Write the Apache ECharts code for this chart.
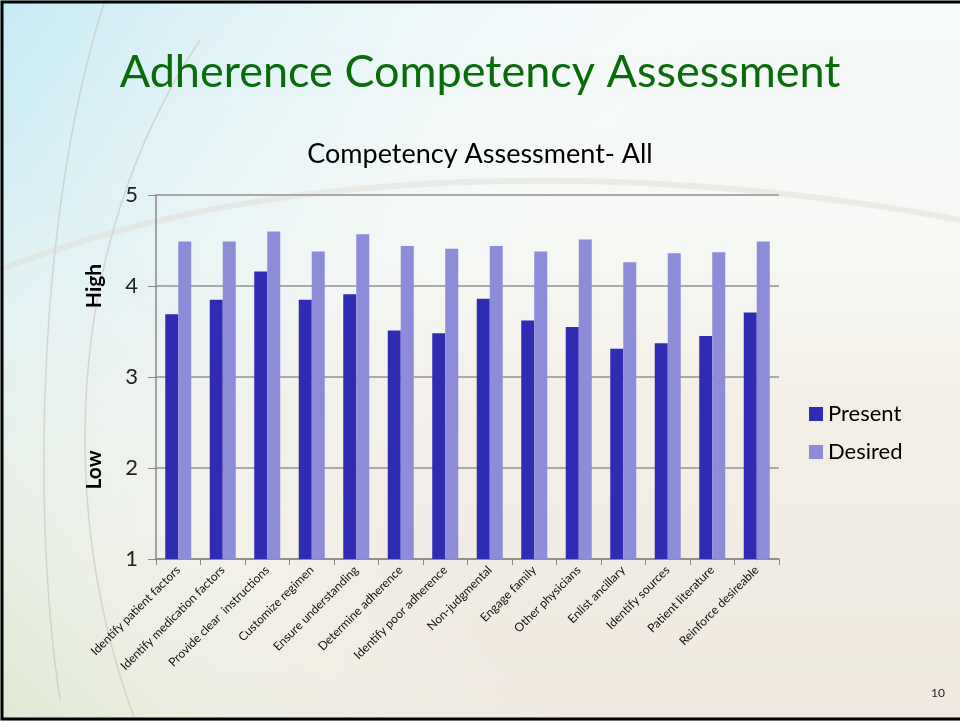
<!DOCTYPE html>
<html>
<head>
<meta charset="utf-8">
<script src="https://cdn.jsdelivr.net/npm/echarts@6/dist/echarts.min.js"></script>
<style>html,body{margin:0;padding:0;}#c{width:960px;height:721px;}</style>
</head>
<body>
<div id="c"></div>
<script>
const categories = ["Identify patient factors","Identify medication factors","Provide clear  instructions","Customize regimen","Ensure understanding","Determine adherence","Identify poor adherence","Non-judgmental","Engage family","Other physicians","Enlist ancillary","Identify sources","Patient literature","Reinforce desireable"];
const present = [3.69,3.85,4.16,3.85,3.91,3.51,3.48,3.86,3.62,3.55,3.31,3.37,3.45,3.71];
const desired = [4.49,4.49,4.60,4.38,4.57,4.44,4.41,4.44,4.38,4.51,4.26,4.36,4.37,4.49];
const yTicks = [1,2,3,4,5];
const seriesNames = ["Present","Desired"];
const slideTitle = "Adherence Competency Assessment";
const chartTitle = "Competency Assessment- All";
const pageNum = "10";

const font = "Lato, 'Open Sans', sans-serif";
const chart = echarts.init(document.getElementById('c'), null, {renderer:'canvas'});
chart.setOption({
  animation:false,
  backgroundColor: {
    type:'linear', x:0, y:0, x2:0, y2:1,
    colorStops:[
      {offset:0, color:'#f4fafa'},
      {offset:0.35, color:'#f6f8f4'},
      {offset:0.55, color:'#f3efe7'},
      {offset:1, color:'#efe9df'}
    ]
  },
  graphic:[
    {type:'rect', shape:{x:0,y:0,width:960,height:721}, silent:true, z:-10,
     style:{fill:{type:'linear',x:0,y:0,x2:0.55,y2:0.5,colorStops:[{offset:0,color:'rgba(190,232,244,0.85)'},{offset:0.45,color:'rgba(215,240,246,0.45)'},{offset:1,color:'rgba(255,255,255,0)'}]}}},
    {type:'rect', shape:{x:0,y:0,width:960,height:721}, silent:true, z:-10,
     style:{fill:{type:'linear',x:0,y:1,x2:0.3,y2:0.6,colorStops:[{offset:0,color:'rgba(220,232,205,0.8)'},{offset:1,color:'rgba(255,255,255,0)'}]}}},
    {type:'bezierCurve', silent:true, z:-9, shape:{x1:105,y1:0,x2:60,y2:700,cpx1:40,cpy1:200,cpx2:30,cpy2:500}, style:{stroke:'rgba(190,180,170,0.45)', lineWidth:1.5, fill:null}},
    {type:'bezierCurve', silent:true, z:-9, shape:{x1:200,y1:40,x2:135,y2:720,cpx1:60,cpy1:250,cpx2:60,cpy2:520}, style:{stroke:'rgba(190,180,170,0.45)', lineWidth:1.5, fill:null}},
    {type:'bezierCurve', silent:true, z:-9, shape:{x1:0,y1:270,x2:960,y2:220,cpx1:300,cpy1:150,cpx2:700,cpy2:170}, style:{stroke:'rgba(225,220,210,0.45)', lineWidth:6, fill:null}},
    {type:'rect', silent:true, z:100, shape:{x:2,y:2,width:960,height:717}, style:{fill:null, stroke:'#000', lineWidth:3}},
    {type:'text', left:'center', top:50, silent:true, style:{text:slideTitle, font:"45px "+font, fill:'#0a6b0a'}},
    {type:'text', left:'center', top:141, silent:true, style:{text:chartTitle, font:"27px "+font, fill:'#000'}},
    {type:'text', silent:true, x:94, y:286, rotation:Math.PI/2, style:{text:'High', font:"bold 21px "+font, fill:'#000', align:'center', verticalAlign:'middle'}},
    {type:'text', silent:true, x:94, y:470, rotation:Math.PI/2, style:{text:'Low', font:"bold 21px "+font, fill:'#000', align:'center', verticalAlign:'middle'}},
    {type:'text', silent:true, x:938, y:693, style:{text:pageNum, font:"12px "+font, fill:'#222', align:'center', verticalAlign:'middle'}}
  ],
  legend:{
    orient:'vertical', left:804, top:398, itemWidth:14, itemHeight:14, itemGap:16,
    icon:'rect',
    textStyle:{fontSize:22, fontFamily:font, color:'#000'},
    data:seriesNames
  },
  grid:{left:156, right:181, top:195, bottom:162, containLabel:false},
  xAxis:{
    type:'category', data:categories,
    axisLine:{lineStyle:{color:'#888', width:1.5}},
    axisTick:{show:true, length:6, lineStyle:{color:'#888'}},
    axisLabel:{rotate:45, fontSize:12, fontFamily:font, color:'#111', margin:9, interval:0}
  },
  yAxis:{
    type:'value', min:yTicks[0], max:yTicks[yTicks.length-1], interval:1,
    axisLine:{show:true, lineStyle:{color:'#888', width:1.5}},
    axisTick:{show:true, length:8, lineStyle:{color:'#888'}},
    axisLabel:{fontSize:22, fontFamily:font, color:'#222', margin:18},
    splitLine:{lineStyle:{color:'#aaa', width:2}}
  },
  series:[
    {name:seriesNames[0], type:'bar', data:present, barWidth:13, barGap:'0%', itemStyle:{color:'#2f2bb3'}},
    {name:seriesNames[1], type:'bar', data:desired, barWidth:13, barGap:'0%', itemStyle:{color:'#8c8cd8'}}
  ]
});
</script>
</body>
</html>
